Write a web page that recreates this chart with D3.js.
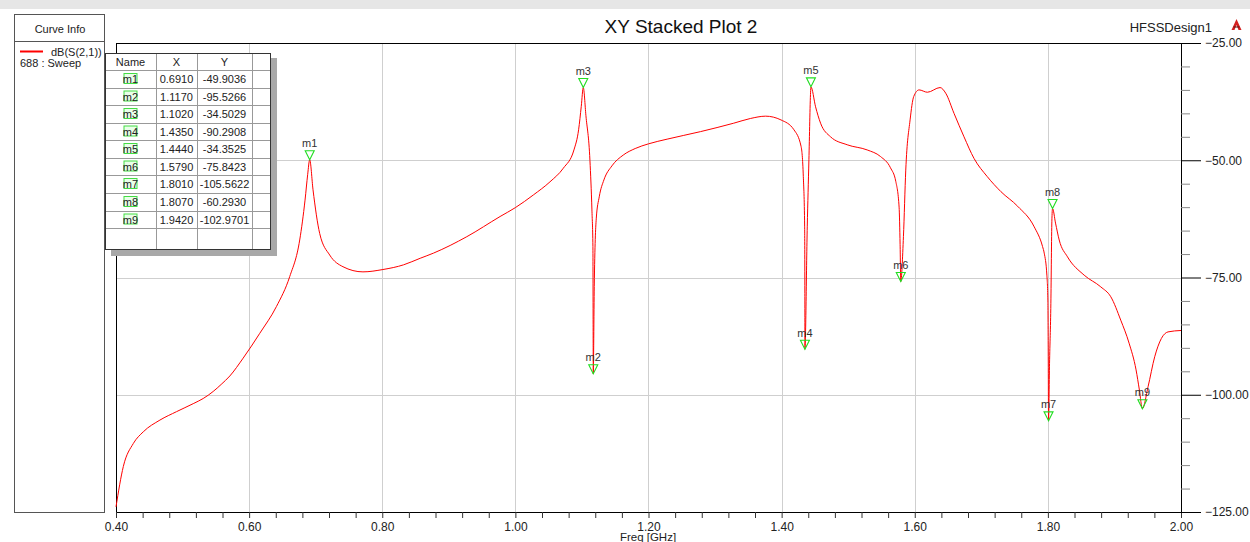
<!DOCTYPE html>
<html><head><meta charset="utf-8">
<script src="https://cdn.jsdelivr.net/npm/d3@7/dist/d3.min.js"></script>
<style>
body{margin:0;background:#fff;overflow:hidden}
svg{display:block;font-family:"Liberation Sans",Arial,sans-serif}
</style>
</head><body><svg id="c" width="1250" height="542"></svg>
<script>
// ---- data ----
const chartTitle = "XY Stacked Plot 2";
const designName = "HFSSDesign1";
const xLabel = "Freq [GHz]";
const curveName = "dB(S(2,1))";
const curveSweep = "688 : Sweep";
const xTickValues = [0.40, 0.60, 0.80, 1.00, 1.20, 1.40, 1.60, 1.80, 2.00];
const yTickValues = [-25, -50, -75, -100, -125];

const freq = [0.400,0.411,0.426,0.441,0.466,0.491,0.516,0.531,0.546,0.558,0.571,0.591,0.616,0.641,0.661,0.676,0.684,0.688,0.691,0.696,0.706,0.721,0.741,0.771,0.801,0.832,0.857,0.877,0.927,0.977,1.000,1.027,1.052,1.072,1.088,1.095,1.099,1.102,1.106,1.112,1.115,1.1165,1.1168,1.117,1.1185,1.1215,1.126,1.133,1.145,1.162,1.180,1.200,1.228,1.278,1.328,1.353,1.376,1.399,1.4185,1.4293,1.4326,1.4346,1.4349,1.435,1.4385,1.441,1.4435,1.444,1.451,1.4585,1.4735,1.4985,1.5285,1.5485,1.5635,1.5715,1.5765,1.578,1.579,1.583,1.5865,1.593,1.5985,1.6065,1.619,1.638,1.6465,1.659,1.674,1.689,1.709,1.7295,1.7545,1.7795,1.792,1.7945,1.7985,1.800,1.8005,1.801,1.8025,1.8045,1.806,1.807,1.8115,1.817,1.8295,1.8545,1.8795,1.8945,1.9095,1.922,1.9325,1.9375,1.942,1.9505,1.9605,1.9705,1.9805,2.000];
const s21 = [-123.9,-115.3,-110.4,-107.9,-105.4,-103.6,-101.9,-100.8,-99.3,-97.8,-96.0,-92.2,-86.9,-81.2,-74.8,-67.0,-58.5,-53.0,-49.90,-56.3,-65.6,-70.2,-72.7,-73.8,-73.3,-72.3,-70.9,-69.8,-66.3,-62.0,-60.1,-57.4,-54.6,-51.7,-47.8,-43.5,-38.5,-34.50,-40.5,-50.0,-60.6,-68.4,-85.0,-95.53,-76.9,-62.5,-57.8,-54.2,-51.2,-48.9,-47.5,-46.5,-45.5,-43.9,-42.1,-41.1,-40.6,-41.4,-43.5,-47.1,-53.5,-64.2,-78.4,-90.29,-64.2,-49.9,-35.5,-34.35,-38.6,-42.1,-45.0,-46.7,-47.8,-49.2,-51.6,-54.5,-60.0,-68.0,-75.84,-66.3,-52.1,-41.4,-36.4,-35.0,-35.5,-34.5,-35.7,-40.0,-45.0,-49.6,-53.5,-56.7,-59.8,-64.2,-68.4,-69.8,-74.5,-80.0,-90.0,-105.56,-93.3,-80.5,-63.0,-60.29,-63.4,-67.0,-70.6,-74.5,-77.0,-79.1,-84.1,-89.0,-94.7,-99.0,-102.97,-98.3,-91.9,-88.0,-86.6,-86.3];

const markerNames = ["m1","m2","m3","m4","m5","m6","m7","m8","m9"];
const markerX = [0.6910,1.1170,1.1020,1.4350,1.4440,1.5790,1.8010,1.8070,1.9420];
const markerY = [-49.9036,-95.5266,-34.5029,-90.2908,-34.3525,-75.8423,-105.5622,-60.2930,-102.9701];
const tableHeader = ["Name","X","Y",""];

// ---- drawing ----
const svg = d3.select("#c");
const W = 1250, H = 542;
const x = d3.scaleLinear().domain([0.4, 2.0]).range([116, 1181]);
const y = d3.scaleLinear().domain([-125, -25]).range([512, 43]);

// window background / frame
svg.append("rect").attr("x",0).attr("y",0).attr("width",W).attr("height",H).attr("fill","#ffffff");
svg.append("rect").attr("x",0).attr("y",0).attr("width",W).attr("height",9).attr("fill","#e6e6e6");

// curve info panel
const panel = svg.append("g");
panel.append("rect").attr("x",14.5).attr("y",14.5).attr("width",90).attr("height",498).attr("fill","#fff").attr("stroke","#555");
panel.append("line").attr("x1",14.5).attr("x2",104.5).attr("y1",41.5).attr("y2",41.5).attr("stroke","#555");
panel.append("text").attr("x",60).attr("y",33).attr("text-anchor","middle").attr("font-size",11).attr("fill","#222").text("Curve Info");
panel.append("line").attr("x1",20).attr("x2",43).attr("y1",51.5).attr("y2",51.5).attr("stroke","#ff0000").attr("stroke-width",2);
panel.append("text").attr("x",51).attr("y",55.5).attr("font-size",11).attr("fill","#222").text(curveName);
panel.append("text").attr("x",20).attr("y",67).attr("font-size",11).attr("fill","#222").text(curveSweep);

// title
svg.append("text").attr("x",681).attr("y",33).attr("text-anchor","middle").attr("font-size",19).attr("fill","#111").text(chartTitle);
svg.append("text").attr("x",1212).attr("y",32).attr("text-anchor","end").attr("font-size",13).attr("fill","#222").text(designName);
// small logo
svg.append("path").attr("d","M1236.5,19 L1231.5,30 L1234.5,30 L1236.5,25 L1238.5,30 L1241.5,30 Z").attr("fill","#d42020");
svg.append("path").attr("d","M1233.5,27 L1239.5,27").attr("stroke","#5a1010").attr("stroke-width",1);

// grid
const gridX = xTickValues.filter(v => v > 0.41 && v < 1.99);
const gridY = yTickValues.filter(v => v > -124 && v < -26);
svg.append("g").selectAll("line").data(gridX).join("line")
  .attr("x1",d=>Math.round(x(d))+0.5).attr("x2",d=>Math.round(x(d))+0.5).attr("y1",43).attr("y2",512)
  .attr("stroke","#cfcfcf");
svg.append("g").selectAll("line").data(gridY).join("line")
  .attr("y1",d=>Math.round(y(d))+0.5).attr("y2",d=>Math.round(y(d))+0.5).attr("x1",116).attr("x2",1181)
  .attr("stroke","#cfcfcf");

// axes frame
const fr = svg.append("g").attr("stroke","#000").attr("shape-rendering","crispEdges");
fr.append("line").attr("x1",116).attr("x2",1201).attr("y1",43).attr("y2",43);
fr.append("line").attr("x1",116).attr("x2",1201).attr("y1",512).attr("y2",512);
fr.append("line").attr("x1",116).attr("x2",116).attr("y1",43).attr("y2",512);
fr.append("line").attr("x1",1181).attr("x2",1181).attr("y1",43).attr("y2",512);

// bottom axis (minor ticks every 0.04)
const xMinor = d3.range(0, 41).map(i => 0.4 + i*0.04);
const xAxis = d3.axisBottom(x).tickValues(xMinor).tickSize(6).tickFormat("");
const gx = svg.append("g").attr("transform","translate(0,512)").call(xAxis);
gx.select(".domain").remove();
gx.selectAll(".tick line").attr("stroke","#333");
const xAxisLab = d3.axisBottom(x).tickValues(xTickValues).tickSize(0).tickPadding(10).tickFormat(d3.format(".2f"));
const gxl = svg.append("g").attr("transform","translate(0,512)").call(xAxisLab);
gxl.select(".domain").remove();
gxl.selectAll("text").attr("font-size",12).attr("fill","#222").attr("font-family","Liberation Sans, Arial, sans-serif");
svg.append("text").attr("x",648).attr("y",541).attr("text-anchor","middle").attr("font-size",11.5).attr("fill","#222").text(xLabel);

// right axis
const yMinor = d3.range(0, 21).map(i => -125 + i*5).filter(v => yTickValues.indexOf(v) < 0);
const gyMin = svg.append("g").attr("transform","translate(1181,0)").call(d3.axisRight(y).tickValues(yMinor).tickSize(9).tickFormat(""));
gyMin.select(".domain").remove();
gyMin.selectAll(".tick line").attr("stroke","#888");
const gyMaj = svg.append("g").attr("transform","translate(1181,0)").call(d3.axisRight(y).tickValues(yTickValues).tickSize(20).tickPadding(4).tickFormat(d3.format(".2f")));
gyMaj.select(".domain").remove();
gyMaj.selectAll(".tick line").attr("stroke","#000");
gyMaj.selectAll("text").attr("font-size",12).attr("fill","#222").attr("font-family","Liberation Sans, Arial, sans-serif");

// curve
const pts = freq.map((f,i) => [f, s21[i]]);
const line = d3.line().x(d => x(d[0])).y(d => y(d[1])).curve(d3.curveMonotoneX);
svg.append("path").attr("d", line(pts)).attr("fill","none").attr("stroke","#ff0000").attr("stroke-width",1);

// markers
const mk = svg.append("g").selectAll("g").data(markerNames).join("g")
  .attr("transform",(d,i)=>`translate(${x(markerX[i])},${y(markerY[i])})`);
mk.append("path").attr("d","M-4.5,-9 L4.5,-9 L0,0 Z").attr("fill","none").attr("stroke","#22dd22").attr("stroke-width",1.1);
mk.append("text").attr("x",0).attr("y",-12.5).attr("text-anchor","middle").attr("font-size",11).attr("fill","#333").text(d=>d);

// marker table
const tbl = svg.append("g");
const tx = [105, 156, 197, 252, 271];
const rowY = [53, 70, 88, 105, 123, 140, 158, 175, 193, 211, 228, 250];
tbl.append("rect").attr("x",111).attr("y",58).attr("width",166).attr("height",198).attr("fill","#a8a8a8");
tbl.append("rect").attr("x",105).attr("y",53).attr("width",166).attr("height",197).attr("fill","#fff");
const tl = tbl.append("g").attr("stroke","#999").attr("shape-rendering","crispEdges");
tx.slice(1,4).forEach(xx => tl.append("line").attr("x1",xx+0.5).attr("x2",xx+0.5).attr("y1",53).attr("y2",250));
rowY.slice(1,11).forEach(yy => tl.append("line").attr("x1",105).attr("x2",271).attr("y1",yy+0.5).attr("y2",yy+0.5));
tbl.append("rect").attr("x",105.5).attr("y",53.5).attr("width",165).attr("height",196).attr("fill","none").attr("stroke","#333");
const colC = [130.5, 176.5, 224.5, 261.5];
tableHeader.forEach((h,j) => tbl.append("text").attr("x",colC[j]).attr("y",66).attr("text-anchor","middle").attr("font-size",11).attr("fill","#222").text(h));
markerNames.forEach((n,i) => {
  const cy = (rowY[i+1] + rowY[i+2]) / 2;
  tbl.append("rect").attr("x",124).attr("y",cy-5.5).attr("width",13).attr("height",10).attr("fill","#e9ffe9").attr("stroke","#44dd44");
  tbl.append("text").attr("x",colC[0]).attr("y",cy+4).attr("text-anchor","middle").attr("font-size",11).attr("fill","#222").text(n);
  tbl.append("text").attr("x",colC[1]).attr("y",cy+4).attr("text-anchor","middle").attr("font-size",11).attr("fill","#222").text(d3.format(".4f")(markerX[i]));
  tbl.append("text").attr("x",colC[2]).attr("y",cy+4).attr("text-anchor","middle").attr("font-size",11).attr("fill","#222").text(d3.format(".4f")(markerY[i]).replace("−","-"));
});
</script>
</body></html>
